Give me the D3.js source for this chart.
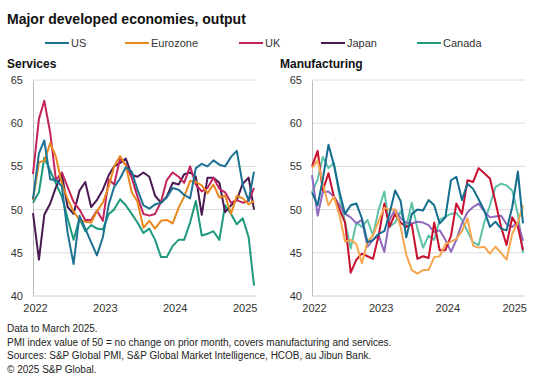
<!DOCTYPE html>
<html>
<head>
<meta charset="utf-8">
<script src="https://cdn.jsdelivr.net/npm/d3@7"></script>
<style>
  body { margin: 0; background: #fff; }
  svg { display: block; font-family: "Liberation Sans", Arial, sans-serif; }
</style>
</head>
<body>
<div id="chart"></div>
<script>
// months Jan 2022 - Mar 2025
const months = d3.range(39).map(i => new Date(2022, i, 1));
const yearTicks = ["2022", "2023", "2024", "2025"];
const yTicks = [40, 45, 50, 55, 60, 65];
const countries = ["US", "Eurozone", "UK", "Japan", "Canada"];

// services business activity
const svcUS = [51.2,56.5,58.0,53.5,53.4,52.7,47.3,43.7,49.3,47.8,46.2,44.7,46.8,50.6,52.6,53.6,54.9,54.4,52.3,50.5,50.1,50.6,50.8,51.4,52.5,52.3,51.7,51.3,54.8,55.3,55.0,55.7,55.2,55.0,56.1,56.8,52.9,51.0,54.4];
const svcEZ = [51.1,55.5,55.6,57.7,56.1,53.0,51.2,49.8,48.8,48.6,48.5,49.8,50.8,52.7,55.0,56.2,55.1,52.0,50.9,47.9,48.7,47.8,48.7,48.8,48.4,50.2,51.5,53.3,53.2,52.8,51.9,52.9,51.4,51.6,49.5,51.6,51.3,50.6,51.0];
const svcUK = [54.1,60.5,62.6,58.9,53.4,54.3,52.6,50.9,50.0,48.8,48.8,49.9,48.7,53.5,52.9,55.9,55.2,53.7,51.5,49.5,49.3,49.5,50.9,53.4,54.3,53.8,53.1,55.0,52.9,52.1,52.5,53.7,52.4,52.0,50.8,51.1,50.8,51.0,52.5];
const svcJP = [49.6,44.2,49.4,50.7,52.6,54.0,50.3,49.5,52.2,53.2,50.3,51.1,52.3,54.0,55.0,55.4,55.9,54.0,53.8,54.3,53.8,51.6,50.8,51.5,53.1,52.9,54.1,54.3,53.8,49.4,53.7,53.7,53.1,49.7,50.5,51.1,53.0,53.7,50.0];
const svcCA = [50.8,52.0,56.0,54.5,53.0,51.5,49.0,46.5,49.0,47.5,48.2,47.8,47.7,49.5,50.0,51.2,50.5,49.5,48.5,47.3,47.8,46.5,44.5,44.5,45.8,46.5,46.5,48.5,51.0,47.0,47.2,47.5,46.5,50.5,49.5,48.3,49.0,46.8,41.2];

// manufacturing output
const mfgUS = [52.0,50.5,53.5,57.5,55.2,52.0,49.5,50.5,50.7,49.0,46.2,46.5,47.2,47.5,49.5,52.2,51.0,46.8,49.5,50.0,49.9,51.1,50.5,48.4,49.1,53.4,53.8,51.1,53.0,52.4,51.2,49.9,48.0,48.6,47.8,47.6,50.3,54.4,48.4];
const mfgEZ = [54.8,55.7,53.0,50.5,51.5,49.3,46.3,46.5,46.0,43.8,46.3,47.0,48.7,50.2,50.0,50.0,48.0,44.8,43.0,42.6,43.0,43.0,44.5,44.6,46.0,46.3,46.6,47.5,49.0,45.8,45.6,45.7,44.9,45.7,45.0,44.2,47.2,48.5,50.5];
const mfgUK = [55.0,56.8,52.2,54.2,51.5,50.0,48.5,42.7,44.2,44.9,44.6,44.3,47.0,50.7,48.0,49.5,48.5,48.0,48.3,44.3,44.6,44.4,48.5,45.3,45.3,47.0,50.7,49.5,53.4,53.2,54.8,54.2,53.6,50.9,48.0,45.9,49.1,48.0,45.3];
const mfgJP = [54.0,49.3,52.0,52.1,51.5,50.5,49.5,49.1,48.4,48.8,45.7,46.5,47.0,45.1,48.8,50.0,49.0,48.5,48.4,48.6,48.5,48.2,47.4,47.6,46.5,45.1,46.5,48.4,49.7,50.3,50.7,49.8,49.1,49.2,49.3,48.3,48.0,48.5,46.4];
const mfgCA = [52.0,53.5,56.1,54.8,55.4,51.5,48.5,45.5,48.5,48.0,48.8,47.0,50.0,52.1,48.0,48.5,49.8,48.0,50.8,47.8,45.6,47.0,46.5,48.8,49.2,49.5,49.6,48.8,47.5,46.2,45.9,48.5,50.5,52.6,53.0,52.8,52.2,49.5,45.0];

const svcColors = ["#1d7294", "#e8891d", "#c3245e", "#4a1954", "#1d9a7d"];
const mfgColors = ["#146d8e", "#f5a64e", "#c8102e", "#9068bd", "#5ec2a8"];

const W = 535, H = 386;
const svg = d3.select("#chart").append("svg").attr("width", W).attr("height", H);

// title
svg.append("text").attr("x", 7).attr("y", 24)
  .style("font-size", "14px").style("font-weight", "bold").attr("fill", "#111")
  .text("Major developed economies, output");

// legend
const legendX = [45, 125, 239, 321, 417];
const legend = svg.append("g");
countries.forEach((c, i) => {
  legend.append("line")
    .attr("x1", legendX[i]).attr("x2", legendX[i] + 24)
    .attr("y1", 43).attr("y2", 43)
    .attr("stroke", svcColors[i]).attr("stroke-width", 2);
  legend.append("text")
    .attr("x", legendX[i] + 26).attr("y", 47)
    .style("font-size", "11px").attr("fill", "#333")
    .text(c);
});

const y = d3.scaleLinear().domain([40, 65]).range([296, 80]);

function drawPanel(title, titleX, x0, x1, data, colors) {
  const x = d3.scaleTime().domain([months[0], months[months.length - 1]]).range([x0, x1]);
  const g = svg.append("g");

  g.append("text").attr("x", titleX).attr("y", 68)
    .style("font-size", "12px").style("font-weight", "bold").attr("fill", "#111")
    .text(title);

  // gridlines
  g.selectAll(".grid").data(yTicks.slice(1)).join("line")
    .attr("x1", x0).attr("x2", x1 + 2)
    .attr("y1", d => y(d)).attr("y2", d => y(d))
    .attr("stroke", "#dcdcdc").attr("stroke-width", 1);

  // axes
  const yAxis = g.append("g").attr("transform", `translate(${x0},0)`)
    .call(d3.axisLeft(y).tickValues(yTicks).tickSize(0).tickPadding(10));
  yAxis.select(".domain").attr("stroke", "#bbb");
  yAxis.selectAll("text").style("font-size", "11px").attr("fill", "#333")
    .style("font-family", "'Liberation Sans', Arial, sans-serif");

  const xAxis = g.append("g").attr("transform", `translate(0,${y(40)})`)
    .call(d3.axisBottom(x).tickValues(yearTicks.map(t => new Date(+t, 0, 1)))
      .tickFormat(d3.timeFormat("%Y")).tickSize(0).tickPadding(8));
  xAxis.select(".domain").attr("stroke", "#ccc").attr("d", `M${x0},0H${x1 + 2}`);
  xAxis.selectAll("text").style("font-size", "11px").attr("fill", "#333")
    .attr("dx", 2)
    .style("font-family", "'Liberation Sans', Arial, sans-serif");

  const line = d3.line().x((d, i) => x(months[i])).y(d => y(d));
  // draw in order so US ends on top like the reference
  const order = [4, 3, 2, 1, 0];
  order.forEach(k => {
    g.append("path").datum(data[k])
      .attr("fill", "none").attr("stroke", colors[k])
      .attr("stroke-width", 2).attr("stroke-linejoin", "round")
      .attr("d", line);
  });
}

drawPanel("Services", 7, 33, 254, [svcUS, svcEZ, svcUK, svcJP, svcCA], svcColors);
drawPanel("Manufacturing", 280, 312, 523, [mfgUS, mfgEZ, mfgUK, mfgJP, mfgCA], mfgColors);

// footnotes
const notes = [
  "Data to March 2025.",
  "PMI index value of 50 = no change on prior month, covers manufacturing and services.",
  "Sources: S&P Global PMI, S&P Global Market Intelligence, HCOB, au Jibun Bank.",
  "\u00A9 2025 S&P Global."
];
svg.append("g").selectAll("text").data(notes).join("text")
  .attr("x", 7).attr("y", (d, i) => 332 + i * 13.7)
  .style("font-size", "10px").attr("fill", "#222")
  .text(d => d);
</script>
</body>
</html>
